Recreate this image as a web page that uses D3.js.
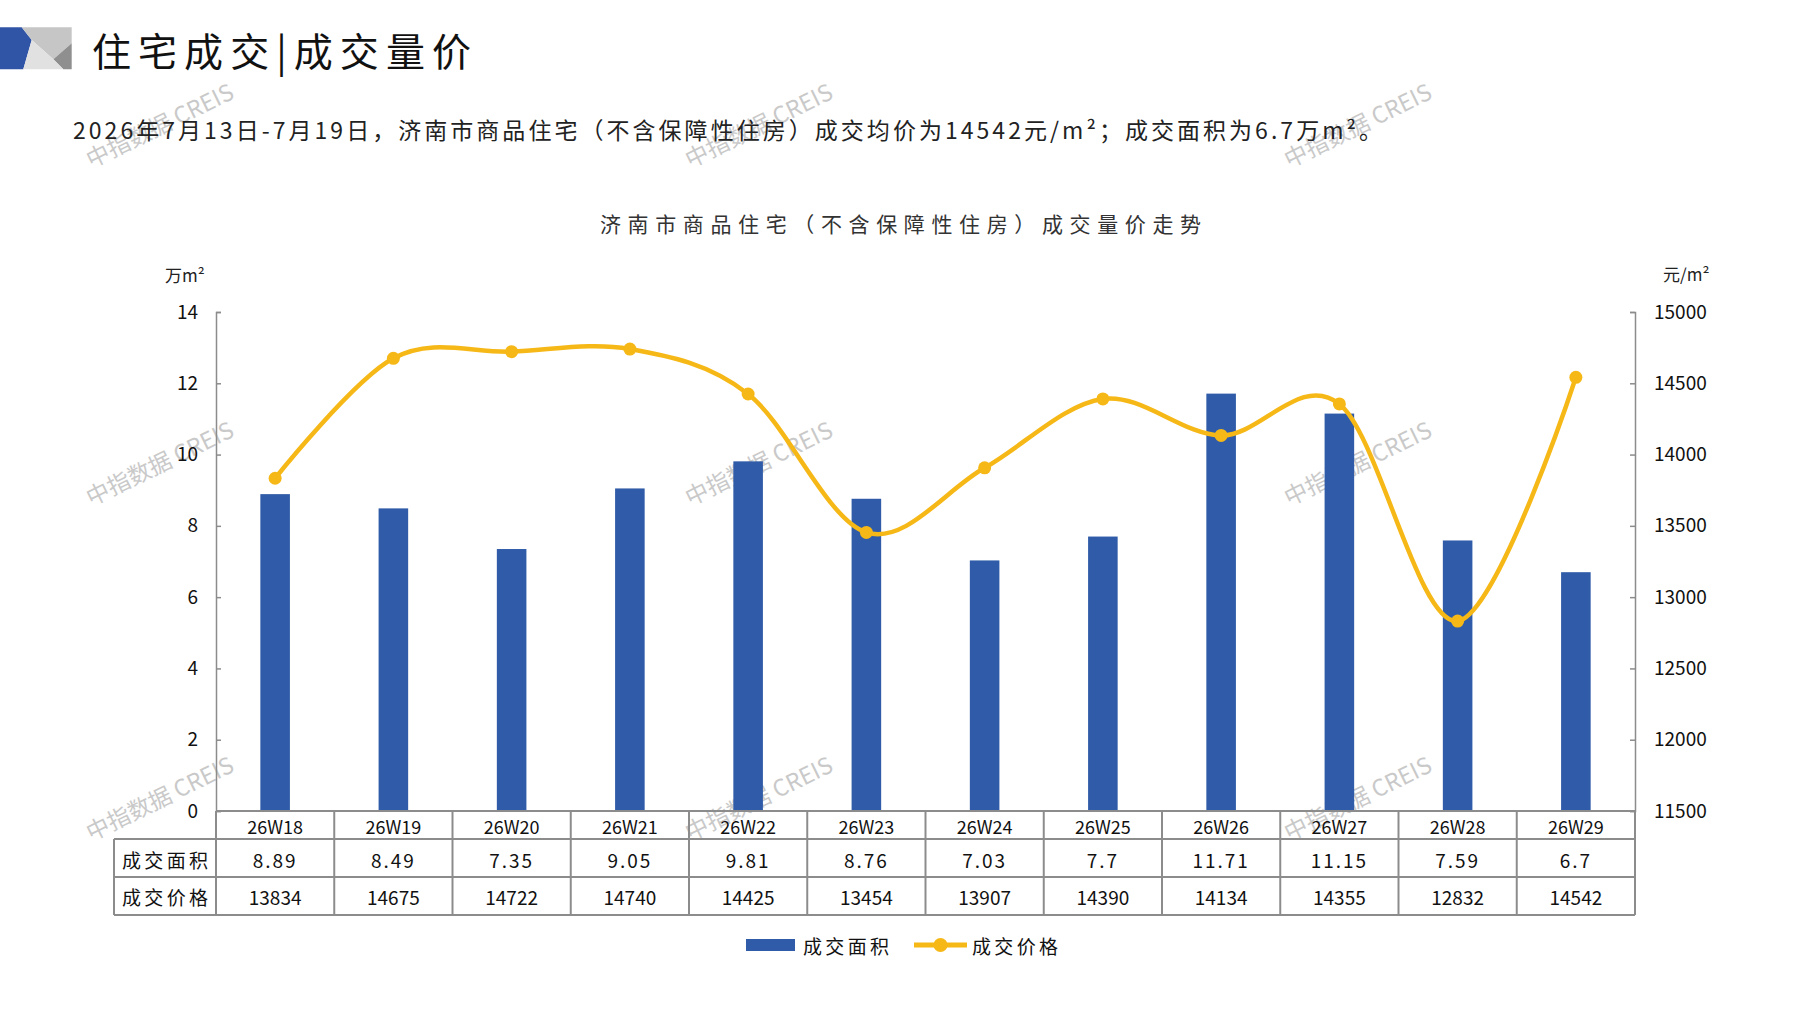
<!DOCTYPE html>
<html><head><meta charset="utf-8">
<script src="https://cdn.jsdelivr.net/npm/d3@7"></script>
<style>
html,body{margin:0;padding:0;background:#fff;}
svg{display:block;}
text{font-family:"Noto Sans CJK SC","Noto Sans",sans-serif;}
</style></head>
<body><svg id="c" width="1797" height="1010"></svg>
<script>
const categories = ["26W18","26W19","26W20","26W21","26W22","26W23","26W24","26W25","26W26","26W27","26W28","26W29"];
const areaValues = [8.89,8.49,7.35,9.05,9.81,8.76,7.03,7.7,11.71,11.15,7.59,6.7];
const areaLabels = ["8.89","8.49","7.35","9.05","9.81","8.76","7.03","7.7","11.71","11.15","7.59","6.7"];
const priceValues = [13834,14675,14722,14740,14425,13454,13907,14390,14134,14355,12832,14542];
const leftTicks = [0,2,4,6,8,10,12,14];
const rightTicks = [11500,12000,12500,13000,13500,14000,14500,15000];
const seriesNames = ["成交面积","成交价格"];
const titleText = "住宅成交|成交量价";
const subtitleText = "2026年7月13日-7月19日，济南市商品住宅（不含保障性住房）成交均价为14542元/m²；成交面积为6.7万m²。";
const chartTitle = "济南市商品住宅（不含保障性住房）成交量价走势";
const watermark = "中指数据 CREIS";

const svg = d3.select("#c");
const BLUE = "#2F5BA8", GOLD = "#F6B817", GRID = "#8c8c8c";

// watermarks (behind)
const wmX = [159, 758, 1357], wmY = [124, 462, 797];
wmY.forEach(y => wmX.forEach(x => {
  svg.append("text").attr("transform", `translate(${x},${y}) rotate(-26)`)
    .attr("text-anchor","middle").attr("dominant-baseline","central")
    .attr("font-size",23).attr("fill","#c9c9c9").attr("font-family","'Liberation Sans','Noto Sans CJK SC',sans-serif")
    .text(watermark);
}));

// logo
const logo = [
  {pts:[[0,27.3],[21.7,27.3],[31.7,40],[23.3,69.3],[0,69.3]], c:"#3155A6"},
  {pts:[[21.7,27.3],[71.7,27.3],[71.7,43.3],[53.3,59.3],[31.7,40]], c:"#c6c6c6"},
  {pts:[[71.7,43.3],[71.7,69.3],[63.3,69.3],[53.3,59.3]], c:"#8f8f8f"},
  {pts:[[31.7,40],[53.3,59.3],[63.3,69.3],[23.3,69.3]], c:"#e1e1e1"}
];
logo.forEach(p => svg.append("polygon").attr("points", p.pts.map(d=>d.join(",")).join(" ")).attr("fill", p.c));

svg.append("text").attr("x",92).attr("y",49).attr("dominant-baseline","central")
  .attr("font-size",39).attr("fill","#111").attr("textLength",379).attr("lengthAdjust","spacing").text(titleText);

svg.append("text").attr("x",73).attr("y",129).attr("dominant-baseline","central")
  .attr("font-size",23).attr("fill","#222").attr("textLength",1309).attr("lengthAdjust","spacing").text(subtitleText);

svg.append("text").attr("x",600).attr("y",223).attr("dominant-baseline","central")
  .attr("font-size",21).attr("fill","#333").attr("textLength",601).attr("lengthAdjust","spacing").text(chartTitle);

// scales
const x = d3.scaleBand().domain(categories).range([216,1635]).padding(0);
const yL = d3.scaleLinear().domain([0,14]).range([811,312]);
const yR = d3.scaleLinear().domain([11500,15000]).range([811,312]);
const bw = x.bandwidth()*0.25;

// units
svg.append("text").attr("x",165).attr("y",274).attr("dominant-baseline","central").attr("font-size",17).attr("fill","#222").text("万m²");
svg.append("text").attr("x",1663).attr("y",273).attr("dominant-baseline","central").attr("font-size",17).attr("fill","#222").text("元/m²");

// axes
const axL = svg.append("g").attr("transform","translate(216,0)")
  .call(d3.axisLeft(yL).tickValues(leftTicks).tickSize(-5).tickPadding(18));
const axR = svg.append("g").attr("transform","translate(1635,0)")
  .call(d3.axisRight(yR).tickValues(rightTicks).tickSize(-5).tickPadding(19).tickFormat(d3.format("d")));
[axL, axR].forEach(a => {
  a.select(".domain").attr("stroke",GRID).attr("stroke-width",1.5);
  a.selectAll(".tick line").attr("stroke",GRID).attr("stroke-width",1.5);
  a.selectAll(".tick text").attr("font-family","'Liberation Sans',Arial,sans-serif").attr("font-size",19).attr("fill","#111");
});

// bars
svg.append("g").selectAll("rect").data(areaValues).join("rect")
  .attr("x",(d,i)=>x(categories[i])+x.bandwidth()/2-bw/2)
  .attr("y",d=>yL(d)).attr("width",bw).attr("height",d=>yL(0)-yL(d)).attr("fill",BLUE);

// line
const line = d3.line().x((d,i)=>x(categories[i])+x.bandwidth()/2).y(d=>yR(d)).curve(d3.curveCardinal.tension(0));
svg.append("path").datum(priceValues).attr("d",line).attr("fill","none").attr("stroke",GOLD).attr("stroke-width",4.5);
svg.append("g").selectAll("circle").data(priceValues).join("circle")
  .attr("cx",(d,i)=>x(categories[i])+x.bandwidth()/2).attr("cy",d=>yR(d)).attr("r",6.5).attr("fill",GOLD);

// data table
const tg = svg.append("g");
const tl = (x1,y1,x2,y2) => tg.append("line").attr("x1",x1).attr("y1",y1).attr("x2",x2).attr("y2",y2).attr("stroke",GRID).attr("stroke-width",2);
tl(216,811,1635,811);
tl(114,839,1635,839);
tl(114,877,1635,877);
tl(114,915,1635,915);
tl(114,839,114,915);
categories.forEach(c => tl(x(c),811,x(c),915));
tl(1635,811,1635,915);

tg.selectAll(".hd").data(categories).join("text").attr("class","hd")
  .attr("x",d=>x(d)+x.bandwidth()/2).attr("y",826).attr("text-anchor","middle").attr("dominant-baseline","central")
  .attr("font-family","Roboto,sans-serif").attr("font-size",18).attr("fill","#111").text(d=>d);
tg.selectAll(".av").data(areaLabels).join("text").attr("class","av")
  .attr("x",(d,i)=>x(categories[i])+x.bandwidth()/2).attr("y",859).attr("text-anchor","middle").attr("dominant-baseline","central")
  .attr("font-family","Roboto,sans-serif").attr("font-size",19).attr("letter-spacing",2).attr("fill","#111").text(d=>d);
tg.selectAll(".pv").data(priceValues).join("text").attr("class","pv")
  .attr("x",(d,i)=>x(categories[i])+x.bandwidth()/2).attr("y",896).attr("text-anchor","middle").attr("dominant-baseline","central")
  .attr("font-family","'Liberation Sans',Arial,sans-serif").attr("font-size",19).attr("fill","#111").text(d=>d);
seriesNames.forEach((s,i) => {
  tg.append("text").attr("x",122).attr("y",[859,896][i]).attr("dominant-baseline","central")
    .attr("font-size",19).attr("fill","#111").attr("textLength",86).attr("lengthAdjust","spacing").text(s);
});

// legend
const lg = svg.append("g");
lg.append("rect").attr("x",746).attr("y",939).attr("width",49).attr("height",12).attr("fill",BLUE);
lg.append("text").attr("x",803).attr("y",945).attr("dominant-baseline","central").attr("font-size",19).attr("fill","#111")
  .attr("textLength",86).attr("lengthAdjust","spacing").text(seriesNames[0]);
lg.append("line").attr("x1",914).attr("x2",967).attr("y1",945).attr("y2",945).attr("stroke",GOLD).attr("stroke-width",5);
lg.append("circle").attr("cx",940.5).attr("cy",945).attr("r",7).attr("fill",GOLD);
lg.append("text").attr("x",972).attr("y",945).attr("dominant-baseline","central").attr("font-size",19).attr("fill","#111")
  .attr("textLength",86).attr("lengthAdjust","spacing").text(seriesNames[1]);
</script></body></html>
